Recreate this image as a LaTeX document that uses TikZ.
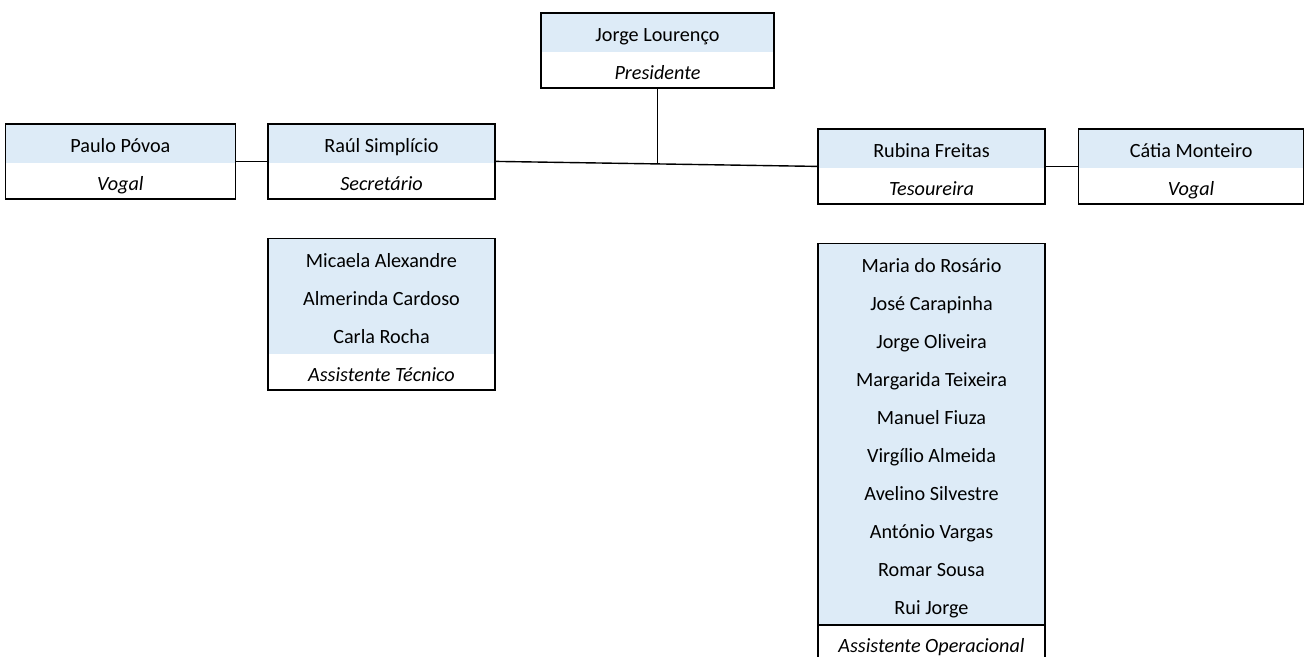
\documentclass[tikz,border=0pt]{standalone}
\usepackage{fontspec}
\setmainfont{Carlito}
\usepackage{tikz}
\usepackage{xcolor}
\usetikzlibrary{shapes.multipart,positioning,calc}
\definecolor{headblue}{RGB}{221,235,247}
\newcommand{\linerow}{\rule[-5pt]{0pt}{19pt}}
\newcommand{\rolerow}{\rule[-4pt]{0pt}{17pt}}
\tikzset{
    member-box/.style = {draw=black, line width=0.8pt, rectangle split, rectangle split parts=2, rectangle split draw splits=false, rectangle split part fill={headblue,white}, minimum width=113.5pt, inner ysep=0pt, align=center, font=\fontsize{10.1}{19}\selectfont},
    group-box/.style = {member-box},
    link/.style = {draw=black, line width=0.7pt},
}
\begin{document}
\begin{tikzpicture}[x=0.5pt, y=-0.5pt]
\useasboundingbox (0,0) rectangle (1304,657);
\node [member-box, anchor=north, minimum width=116.5pt] (president) at (657.5,12) {\linerow Jorge Lourenço \nodepart{two} \rolerow\textit{Presidente}};
\node [member-box, anchor=north] (secretary) at (381.5,123) {\linerow Raúl Simplício \nodepart{two} \rolerow\textit{Secretário}};
\node [member-box, anchor=north] (treasurer) at (931.5,128) {\linerow Rubina Freitas \nodepart{two} \rolerow\textit{Tesoureira}};
\node [member-box, minimum width=115pt, left=15.5pt of secretary] (vogal-left) {\linerow Paulo Póvoa \nodepart{two} \rolerow\textit{Vogal}};
\node [member-box, minimum width=112.5pt, right=16pt of treasurer] (vogal-right) {\linerow Cátia Monteiro \nodepart{two} \rolerow\textit{Vogal}};
\node [group-box, below=19pt of secretary] (technical) {\linerow Micaela Alexandre\\\linerow Almerinda Cardoso\\\linerow Carla Rocha \nodepart{two} \rolerow\textit{Assistente Técnico}};
\node [group-box, below=19pt of treasurer, rectangle split draw splits=true] (operational) {\linerow Maria do Rosário\\\linerow José Carapinha\\\linerow Jorge Oliveira\\\linerow Margarida Teixeira\\\linerow Manuel Fiuza\\\linerow Virgílio Almeida\\\linerow Avelino Silvestre\\\linerow António Vargas\\\linerow Romar Sousa\\\linerow Rui Jorge \nodepart{two} \rolerow\textit{Assistente Operacional}};
\coordinate (junction) at ($(secretary.east)!0.5!(treasurer.west)$);
\draw [link] (president.south) -- (president.south |- junction);
\draw [link] (secretary.east) -- (treasurer.west);
\draw [link] (vogal-left.east) -- (secretary.west);
\draw [link] (treasurer.east) -- (vogal-right.west);
\end{tikzpicture}
\end{document}
